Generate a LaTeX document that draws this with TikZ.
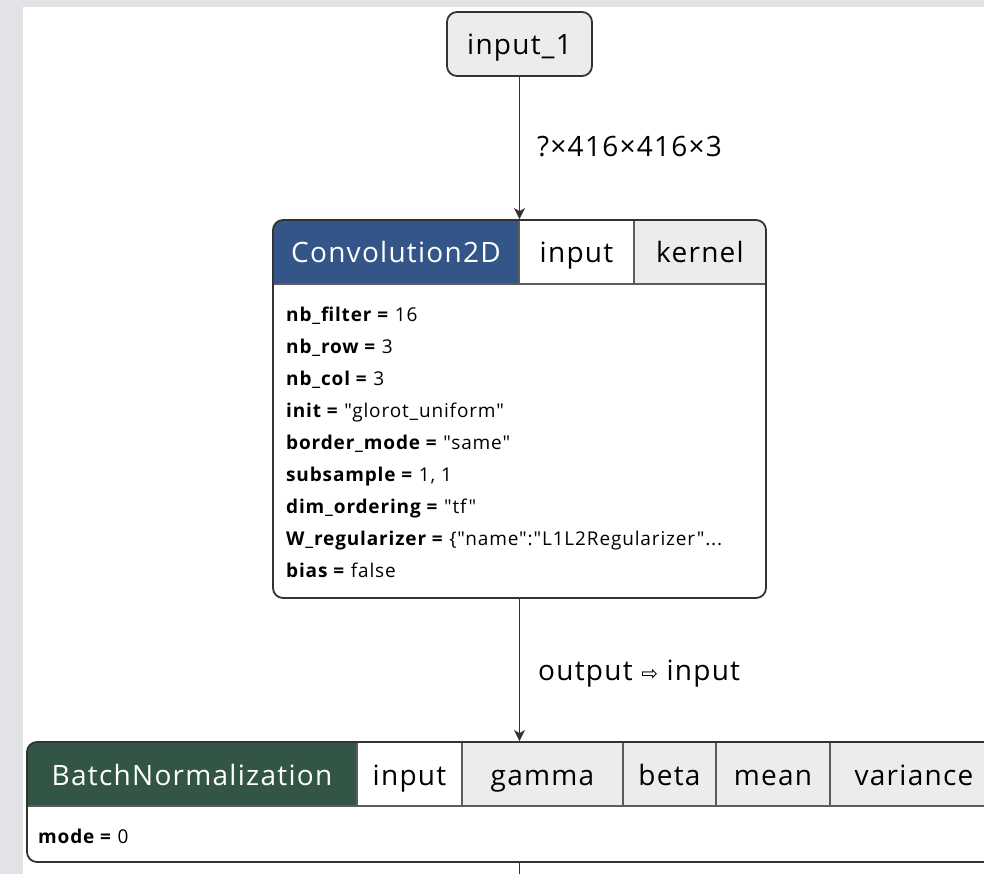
\documentclass[tikz,border=0pt]{standalone}
\usepackage{fontspec}
\setmainfont{Open Sans}[LetterSpace=4.5, Ligatures=TeXOff]
\newfontfamily\arrowfont{DejaVu Sans}
\usetikzlibrary{positioning,calc,arrows.meta}
\definecolor{pagegrey}{HTML}{E1E3E6}
\definecolor{cellgrey}{HTML}{ECECEC}
\definecolor{lineblack}{HTML}{333333}
\definecolor{convblue}{HTML}{335587}
\definecolor{normgreen}{HTML}{335545}
\tikzstyle{Flow} = [line width=1.6pt, draw=lineblack, -{Stealth[length=11pt,width=11pt,inset=3pt]}]
\tikzstyle{Edge} = [line width=1.6pt, draw=lineblack]
\tikzstyle{Box} = [draw=lineblack, line width=1.8pt, rounded corners=10pt, inner sep=0pt]
\tikzstyle{Cell} = [draw=lineblack!80, line width=1.2pt, inner sep=0pt, minimum height=64pt, font=\fontsize{28}{30}\selectfont, text height=24pt, text depth=2pt]
\tikzstyle{Head} = [Cell, text=white]
\tikzstyle{Tag} = [inner sep=0pt, font=\fontsize{28}{30}\selectfont]
\tikzstyle{Attrs} = [inner sep=0pt, align=left, font=\fontsize{19}{32}\selectfont]

\begin{document}
\begin{tikzpicture}[x=1pt,y=-1pt]
   \fill[pagegrey] (0,0) rectangle (984,874);
   \fill[white] (23,7.5) rectangle (984,874);
   \useasboundingbox (0,0) rectangle (984,874);
   \clip (0,0) rectangle (984,874);

   \node[Box, Tag, fill=cellgrey, minimum width=145pt, minimum height=64pt, text height=24pt, text depth=2pt] (input1) at (519.5,44) {input\_1};

   \begin{scope}
   \clip[rounded corners=10pt] (273,220) rectangle (766,598);
   \node[Head, fill=convblue, minimum width=246pt] (convname) at (396,252) {Convolution2D};
   \node[Cell, fill=white, minimum width=115pt] (convinput) at (576.5,252) {input};
   \node[Cell, fill=cellgrey, minimum width=132pt] (convkernel) at (700,252) {kernel};
   \end{scope}
   \node[Box, minimum width=493pt, minimum height=378pt] (conv) at (519.5,409) {};
   \node[Attrs, anchor=base west] (convattrs) at (286,577) {\textbf{nb\_filter =} 16\\
   \textbf{nb\_row =} 3\\
   \textbf{nb\_col =} 3\\
   \textbf{init =} "glorot\_uniform"\\
   \textbf{border\_mode =} "same"\\
   \textbf{subsample =} 1, 1\\
   \textbf{dim\_ordering =} "tf"\\
   \textbf{W\_regularizer =} \{"name":"L1L2Regularizer"...\\
   \textbf{bias =} false};

   \begin{scope}
   \clip[rounded corners=10pt] (27,742) rectangle (1018,862);
   \node[Head, fill=normgreen, minimum width=330pt] (bnname) at (192,774) {BatchNormalization};
   \node[Cell, fill=white, minimum width=105pt] (bninput) at (409.5,774) {input};
   \node[Cell, fill=cellgrey, minimum width=161pt] (bngamma) at (542.5,774) {gamma};
   \node[Cell, fill=cellgrey, minimum width=93pt] (bnbeta) at (669.5,774) {beta};
   \node[Cell, fill=cellgrey, minimum width=114pt] (bnmean) at (773,774) {mean};
   \node[Cell, fill=cellgrey, minimum width=168pt] (bnvariance) at (914,774) {variance};
   \end{scope}
   \node[Box, minimum width=991pt, minimum height=120pt] (bn) at (522.5,802) {};
   \node[Attrs, anchor=base west] (bnattrs) at (38,843) {\textbf{mode =} 0};
   \coordinate (next) at (519.5,880);

   \node[Tag, anchor=base west] (shapelabel) at (537,157) {?×416×416×3};
   \node[Tag, anchor=base west] (linklabel) at (538,680) {output {\arrowfont\fontsize{20}{20}\selectfont ⇨} input};

   \draw[Flow] (input1) -- (conv);
   \draw[Flow] (conv.south) -- (conv.south |- bn.north);
   \draw[Edge] (conv.south |- bn.south) -- (next);
\end{tikzpicture}
\end{document}
